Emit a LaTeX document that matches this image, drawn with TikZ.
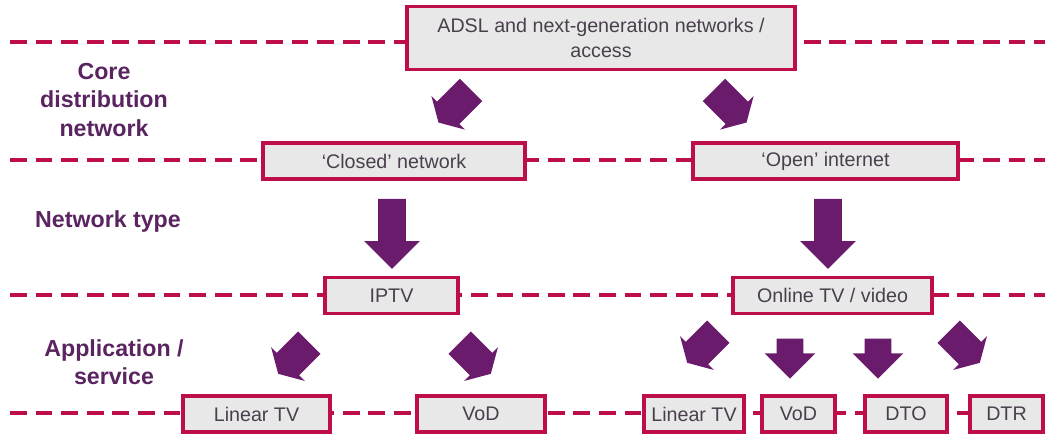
\documentclass[tikz,border=0pt]{standalone}
\usepackage{fontspec}
\setmainfont{Liberation Sans}
\usepackage{xcolor}
\usetikzlibrary{
    shapes.arrows,
    positioning,
    calc
}
\definecolor{crimson}{HTML}{BE0D4B}
\definecolor{plum}{HTML}{6A1B6C}
\definecolor{boxgrey}{HTML}{E8E8E8}
\definecolor{boxtext}{HTML}{4A3F4C}
\definecolor{titletext}{HTML}{5A2460}
\tikzset{
    % Service box style
    svcbox/.style={
        rectangle,
        minimum height=0.9cm,
        inner sep=1pt,
        align=center,
        font=\fontsize{14}{17.5}\selectfont,
        text=boxtext,
        draw=crimson,
        fill=boxgrey,
        line width=2.6pt
    },
    % Dashed level line
    levelline/.style={
        crimson,
        line width=2.8pt,
        dash pattern=on 0.42cm off 0.22cm
    },
    % Block arrow style (#1 = half shaft width)
    blockarrow/.style={
        single arrow,
        fill=plum,
        draw=none,
        inner xsep=0pt,
        inner ysep=#1
    },
    % Squat diagonal arrow
    tiltarrow/.style={
        blockarrow=0.39cm,
        single arrow head extend=0.2cm,
        single arrow tip angle=120,
        minimum height=#1
    },
    % Layer title style
    layer title/.style={
        font=\fontsize{16.5}{20}\selectfont\bfseries,
        text=titletext,
        align=center
    }
}
\begin{document}
\begin{tikzpicture}[x=0.025cm, y=-0.025cm]
        \useasboundingbox (0,0) rectangle (1052,437);

        % Level lines
        \coordinate (l1a) at (10,42);  \coordinate (l1b) at (1045,42);
        \coordinate (l2a) at (10,160); \coordinate (l2b) at (1045,160);
        \coordinate (l3a) at (10,295); \coordinate (l3b) at (1045,295);
        \coordinate (l4a) at (10,413); \coordinate (l4b) at (1045,413);
        \draw[levelline] (l1a) -- (l1b);
        \draw[levelline] (l2a) -- (l2b);
        \draw[levelline] (l3a) -- (l3b);
        \draw[levelline] (l4a) -- (l4b);

        % Layer titles
        \node[layer title] (core) at (104,100) {Core\\distribution\\network};
        \node[layer title] (nettype) at (108,221) {Network type};
        \node[layer title] (app) at (114,362) {Application /\\service};

        % Access
        \node[svcbox, minimum width=9.7cm, minimum height=1.575cm] (adsl) at (601,38) {ADSL and next-generation networks /\\access};

        % Network type
        \node[svcbox, minimum width=6.55cm] (closed) at (394,161) {`Closed' network};
        \node[svcbox, minimum width=6.625cm] (open) at (825.5,161) {`Open' internet};

        % Application
        \node[svcbox, minimum width=3.325cm] (iptv) at (391.5,295.5) {IPTV};
        \node[svcbox, minimum width=4.975cm] (online) at (832.5,295.5) {Online TV / video};

        % Services
        \node[svcbox, minimum width=3.675cm] (lintv1) at (256.5,414) {Linear TV};
        \node[svcbox, minimum width=3.2cm] (vod1) at (481,414) {VoD};
        \node[svcbox, minimum width=2.5cm] (lintv2) at (694,414) {Linear TV};
        \node[svcbox, minimum width=1.825cm] (vod2) at (798.5,414) {VoD};
        \node[svcbox, minimum width=2.05cm] (dto) at (906,414) {DTO};
        \node[svcbox, minimum width=1.825cm] (dtr) at (1006.5,414) {DTR};

        % Arrows
        \node[tiltarrow=1.15cm, rotate=-135] (a1) at (458,103) {};
        \node[tiltarrow=1.15cm, rotate=-45] (a2) at (727,103) {};
        \node[blockarrow=0.34cm, single arrow head extend=0.35cm, minimum height=1.75cm, rotate=-90] (a3) at (392,227) {};
        \node[blockarrow=0.34cm, single arrow head extend=0.35cm, minimum height=1.75cm, rotate=-90] (a4) at (828,227) {};
        \node[tiltarrow=1.1cm, rotate=-135] (a5) at (297,355) {};
        \node[tiltarrow=1.1cm, rotate=-45] (a6) at (472,355) {};
        \node[tiltarrow=1.1cm, rotate=-135] (a7) at (706,344) {};
        \node[blockarrow=0.325cm, single arrow head extend=0.3cm, minimum height=1.0cm, rotate=-90] (a8) at (790,352) {};
        \node[blockarrow=0.325cm, single arrow head extend=0.3cm, minimum height=1.0cm, rotate=-90] (a9) at (878,352) {};
        \node[tiltarrow=1.1cm, rotate=-45] (a10) at (961,344) {};

    \end{tikzpicture}
\end{document}
